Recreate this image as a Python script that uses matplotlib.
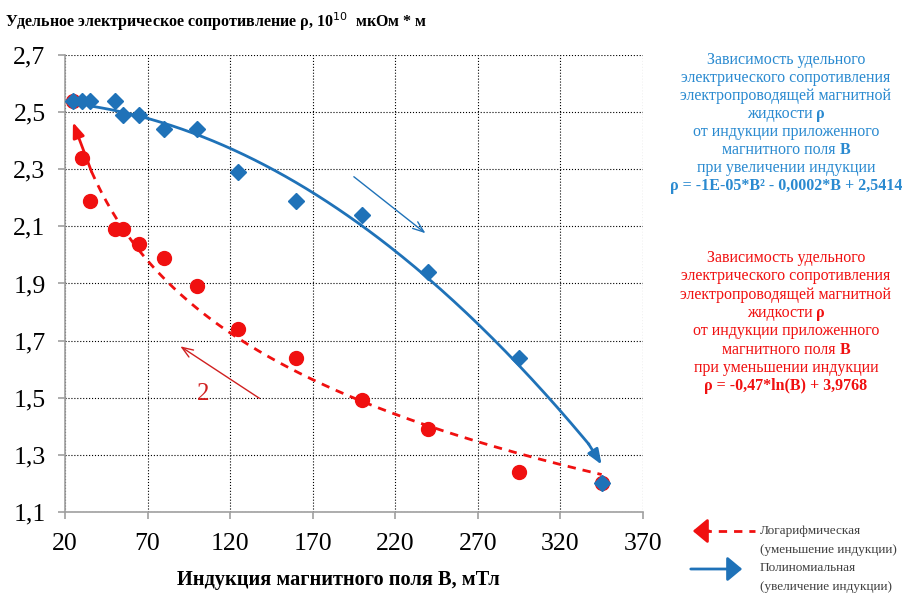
import numpy as np
import matplotlib
matplotlib.use("Agg")
import matplotlib.pyplot as plt
import matplotlib.patches as patches
from matplotlib.ticker import FuncFormatter

plt.rcParams['font.family'] = ['Liberation Serif', 'DejaVu Serif']

# induction B, mT
b_vals = [25, 30, 35, 50, 55, 65, 80, 100, 125, 160, 200, 240, 295, 345]
# resistivity when induction increases (blue)
rho_up = [2.54, 2.54, 2.54, 2.54, 2.49, 2.49, 2.44, 2.44, 2.29, 2.19, 2.14, 1.94, 1.64, 1.20]
# resistivity when induction decreases (red)
rho_down = [2.54, 2.34, 2.19, 2.09, 2.09, 2.04, 1.99, 1.89, 1.74, 1.64, 1.49, 1.39, 1.24, 1.20]
x_ticks = [20, 70, 120, 170, 220, 270, 320, 370]
y_ticks = [1.1, 1.3, 1.5, 1.7, 1.9, 2.1, 2.3, 2.5, 2.7]

blue = '#1f72b8'
red = '#f01010'
blue_txt = '#2a8ad0'

fig = plt.figure(figsize=(9.03, 5.93), dpi=100)
ax = fig.add_axes([0.072, 0.137, 0.640, 0.770])

# trend curves
bb = np.linspace(25, 337, 200)
poly = -1e-5 * bb**2 - 0.0002 * bb + 2.5414
ax.plot(bb[6:], poly[6:], color=blue, lw=2, zorder=2)
ax.annotate('', xy=(345, 1.265), xytext=(bb[-1], poly[-1]),
            arrowprops=dict(arrowstyle='-|>,head_length=0.9,head_width=0.35',
                            color=blue, lw=2, shrinkA=0, shrinkB=0), zorder=2)

bl = np.linspace(36, 345, 200)
logf = -0.47 * np.log(bl) + 3.9768
ax.plot(bl, logf, color=red, lw=2, ls=(0, (3, 2.5)), zorder=2)
ax.annotate('', xy=(24.8, 2.465), xytext=(bl[0], logf[0]),
            arrowprops=dict(arrowstyle='-|>,head_length=0.9,head_width=0.35',
                            color=red, lw=2, shrinkA=0, shrinkB=0), zorder=2)

ax.plot(b_vals, rho_down, 'o', color=red, ms=10, zorder=3)
ax.plot(b_vals, rho_up, 'D', color=blue, ms=8, zorder=4)

# thin direction arrows
ax.annotate('', xy=(239.6, 2.07), xytext=(193.6, 2.28),
            arrowprops=dict(arrowstyle='->,head_length=0.8,head_width=0.3',
                            color=blue, lw=1))
ax.annotate('', xy=(88.4, 1.685), xytext=(139.2, 1.492),
            arrowprops=dict(arrowstyle='->,head_length=0.8,head_width=0.3',
                            color='#d02020', lw=1))
ax.text(103.5, 1.512, '2', color='#d02020', fontsize=18, ha='center', va='center')

ax.set_xlim(20, 370)
ax.set_ylim(1.1, 2.7)
ax.set_xticks(x_ticks)
ax.set_yticks(y_ticks)
ax.yaxis.set_major_formatter(FuncFormatter(lambda v, p: ('%.1f' % v).replace('.', ',')))
ax.grid(True, color='black', ls=':', lw=0.8)
for s in ['top', 'right']:
    ax.spines[s].set_visible(False)
for s in ['left', 'bottom']:
    ax.spines[s].set_color('#a0a0a0')
    ax.spines[s].set_linewidth(1.2)
ax.tick_params(colors='#a0a0a0', labelcolor='black', labelsize=18.5, length=5,
               width=1.2)
ax.tick_params(axis='x', pad=10)
ax.tick_params(axis='y', pad=9)

fig.text(0.006, 0.963, 'Удельное электрическое сопротивление ρ, 10$^{10}$  мкОм * м',
         fontsize=11.5, fontweight='bold', va='center')
fig.text(0.375, 0.005, 'Индукция магнитного поля В, мТл', fontsize=14.7,
         fontweight='bold', ha='center', va='bottom')

blue_lines = ['Зависимость удельного', 'электрического сопротивления',
              'электропроводящей магнитной', 'жидкости ρ',
              'от индукции приложенного', 'магнитного поля В',
              'при увеличении индукции',
              'ρ = -1E-05*B² - 0,0002*B + 2,5414']
red_lines = ['Зависимость удельного', 'электрического сопротивления',
             'электропроводящей магнитной', 'жидкости ρ',
             'от индукции приложенного', 'магнитного поля В',
             'при уменьшении индукции',
             'ρ = -0,47*ln(B) + 3,9768']


def fx(px):
    return px / 903


def fy(py):
    return 1 - py / 593


def text_block(lines, y0, step, color):
    fig.canvas.draw()
    r = fig.canvas.get_renderer()
    for i, s in enumerate(lines):
        y = y0 + i * step
        if i == len(lines) - 1:
            fig.text(fx(786), fy(y), s, color=color, fontsize=11.5,
                     ha='center', va='center', fontweight='bold')
        elif s.endswith(' ρ') or s.endswith(' В'):
            # regular words followed by a bold symbol
            head, tail = s[:-1], s[-1]
            t1 = fig.text(0, fy(y), head, color=color, fontsize=11.5, va='center')
            t2 = fig.text(0, fy(y), tail, color=color, fontsize=11.5, va='center',
                          fontweight='bold')
            w1 = t1.get_window_extent(r).width
            w2 = t2.get_window_extent(r).width
            x0 = 786 - (w1 + w2) / 2
            t1.set_x(fx(x0))
            t2.set_x(fx(x0 + w1))
        else:
            fig.text(fx(786), fy(y), s, color=color, fontsize=11.5,
                     ha='center', va='center')


text_block(blue_lines, 60, 18, blue_txt)
text_block(red_lines, 258, 18.3, red)

# legend
fig.add_artist(plt.Line2D([fx(703), fx(755)], [fy(531), fy(531)], color=red, lw=2,
                          ls=(0, (3, 2.5))))
fig.patches.append(patches.FancyArrowPatch(
    (fx(712), fy(531)), (fx(690), fy(531)), transform=fig.transFigure,
    arrowstyle='-|>,head_length=6,head_width=5', color=red, lw=2, mutation_scale=1.5))
fig.patches.append(patches.FancyArrowPatch(
    (fx(688), fy(569)), (fx(745), fy(569)), transform=fig.transFigure,
    arrowstyle='-|>,head_length=6,head_width=5', color=blue, lw=2, mutation_scale=1.5))
leg_txt = ['Логарифмическая', '(уменьшение индукции)',
           'Полиномиальная', '(увеличение индукции)']
for i, s in enumerate(leg_txt):
    fig.text(fx(760), fy(531 + i * 18.7), s, fontsize=9.5, color='#404040', va='center')

fig.savefig('out.png', dpi=100)
